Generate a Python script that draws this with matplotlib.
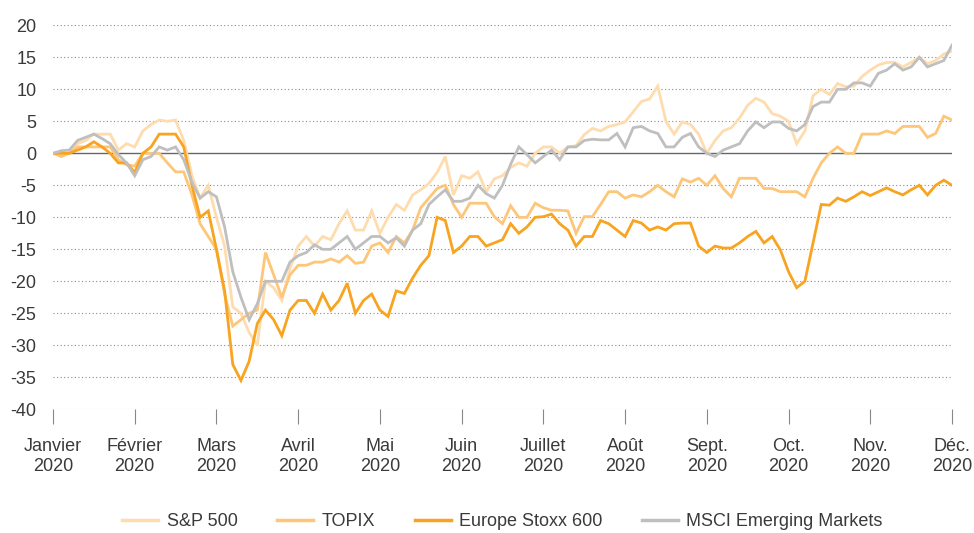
import numpy as np
import matplotlib
matplotlib.use("Agg")
import matplotlib.pyplot as plt

plt.rcParams["font.family"] = ["Liberation Sans", "DejaVu Sans"]

# month labels (ticks at the start of each month)
months = ["Janvier", "Février", "Mars", "Avril", "Mai", "Juin", "Juillet",
          "Août", "Sept.", "Oct.", "Nov.", "Déc."]
year = "2020"

# performance since 1 Jan 2020 (%), one reading every tenth of a month
sp500 = [0, 0, 0, 1.5, 2, 3, 3, 3, 0.5, 1.5, 1,
         3.5, 4.5, 5.2, 5, 5.2, 2, -3.5, -7, -5, -10,
         -14.5, -24, -25, -28, -30, -20, -21, -23, -18, -14.5,
         -13, -14.5, -13, -13.5, -11, -9, -12, -12, -9, -12.5,
         -10, -8, -8.9, -6.5, -5.7, -4.7, -3, -0.5, -6.5, -3.5,
         -3.9, -2.9, -6, -4, -3.5, -2.2, -1.5, -2, 0, 1,
         1, 0, 1, 1.2, 2.9, 3.9, 3.5, 4.2, 4.5, 4.9,
         6.5, 8.1, 8.5, 10.5, 5, 3, 4.9, 4.5, 3, 0,
         2, 3.5, 4, 5.5, 7.5, 8.6, 8, 6.2, 5.8, 5,
         1.5, 3.5, 9, 10, 9.2, 10.9, 10.4, 10.5, 12, 13,
         13.8, 14.2, 14.2, 13.5, 14.2, 15, 14, 14.5, 15.5, 16]

topix = [0, -0.5, 0, 1, 1, 1, 1, 1, -1, -1.8, -2,
         0, 0, 0, -1.5, -2.9, -2.9, -6.5, -11, -13, -15,
         -22, -27, -26, -25, -24.5, -15.5, -19, -22.5, -19, -17.5,
         -17.5, -17, -17, -16.5, -17, -16, -17.2, -17, -14.5, -14,
         -15.5, -13, -14, -12, -8.5, -7, -5.5, -5, -8, -10,
         -7.8, -7.8, -7.8, -9.9, -11, -8.2, -10, -10, -7.8, -8.5,
         -8.9, -8.9, -9, -12.5, -9.9, -9.9, -8, -6, -6, -7,
         -6.5, -6.8, -6, -5, -6, -6.8, -4, -4.5, -3.9, -5,
         -3.5, -5.5, -6.8, -3.9, -3.9, -3.9, -5.5, -5.5, -6, -6,
         -6, -6.8, -3.9, -1.5, 0, 1, 0, 0, 3, 3,
         3, 3.5, 3.1, 4.2, 4.2, 4.2, 2.5, 3.1, 5.8, 5.2]

stoxx600 = [0, 0, 0, 0.5, 1, 1.8, 1, 0, -1.5, -1.5, -3,
            0, 1, 3, 3, 3, 1, -5, -10, -9, -15,
            -21.5, -33, -35.5, -32.5, -26.6, -24.5, -26, -28.5, -24.5, -23,
            -23, -25, -22, -24.5, -23, -20.3, -25, -23, -22, -24.5,
            -25.5, -21.5, -21.9, -19.5, -17.5, -16, -10, -10.5, -15.5, -14.5,
            -13, -13, -14.5, -14, -13.5, -11, -12.5, -11.5, -10, -9.9,
            -9.5, -11, -12, -14.5, -13, -13, -10.5, -11, -12, -13,
            -10.5, -10.9, -12, -11.5, -12, -11, -10.9, -10.9, -14.5, -15.5,
            -14.5, -14.8, -14.8, -14, -13, -12.2, -14, -13, -15.1, -18.5,
            -21, -20, -14, -8, -8.1, -7, -7.5, -6.8, -6, -6.6,
            -6, -5.4, -6, -6.5, -5.7, -5, -6.5, -5, -4.2, -5]

msci_em = [0, 0.4, 0.5, 2, 2.5, 3, 2.3, 1.5, -0.2, -1.5, -3.5,
           -1, -0.5, 1, 0.5, 1, -1, -4.5, -7, -6, -6.8,
           -11.5, -18.5, -22.5, -26, -23.5, -20, -20, -20, -17, -16,
           -15.5, -14.3, -15, -15, -14, -13, -15, -14, -13, -13,
           -14, -13.2, -14.5, -12, -11, -8, -6.8, -5.7, -7.5, -7.5,
           -7, -5, -6.3, -7, -5, -1.7, 1, -0.2, -1.5, -0.5,
           0.5, -1, 1, 1, 2, 2.2, 2.1, 2.1, 3.1, 1,
           4, 4.2, 3.5, 3.1, 1, 1, 2.5, 3.1, 1, 0,
           -0.5, 0.5, 1, 1.5, 3.5, 4.9, 4, 4.9, 4.9, 3.9,
           3.5, 4.5, 7.3, 8, 8, 10, 10, 11, 11, 10.5,
           12.5, 13, 14, 13, 13.5, 15, 13.5, 14, 14.5, 16.9]

series = [("S&P 500", sp500, "#fedcae"),
          ("TOPIX", topix, "#fdc679"),
          ("Europe Stoxx 600", stoxx600, "#f8a420"),
          ("MSCI Emerging Markets", msci_em, "#bfbfbf")]

t = np.arange(len(sp500)) / 10.0   # position in months

fig = plt.figure(figsize=(9.74, 5.33), dpi=100)
ax = fig.add_axes([0.0544, 0.2321, 0.9230, 0.7204])

# dotted grid + solid zero line
for yv in range(-40, 25, 5):
    if yv == 0:
        continue
    ax.axhline(yv, color="#8a8a8a", lw=0.8, ls=(0, (1, 2.2)), zorder=0)
ax.axhline(0, color="#666666", lw=1.0, zorder=1)

for name, vals, col in series:
    ax.plot(t, vals, color=col, lw=2.0, label=name, solid_joinstyle="miter")

ax.set_xlim(0, 11)
ax.set_ylim(-40, 20)
ax.set_yticks(range(-40, 25, 5))
ax.set_yticklabels([str(v) for v in range(-40, 25, 5)])
ax.set_xticks(range(12))
ax.set_xticklabels([f"{m}\n{year}" for m in months])

for s in ax.spines.values():
    s.set_visible(False)
ax.tick_params(axis="y", length=0, pad=12, labelsize=13, labelcolor="#3a3a3a")
ax.tick_params(axis="x", length=11, width=0.8, color="#888888", pad=10,
               labelsize=13, labelcolor="#3a3a3a")
ax.set_facecolor("white")

leg = ax.legend(loc="center", bbox_to_anchor=(0.5, -0.293), ncol=4, frameon=False,
                fontsize=13, handlelength=2.0, handletextpad=0.45,
                columnspacing=2.2, borderpad=0)
for txt in leg.get_texts():
    txt.set_color("#3a3a3a")
for ln in leg.get_lines():
    ln.set_linewidth(2.5)

fig.savefig("out.png", dpi=100)
